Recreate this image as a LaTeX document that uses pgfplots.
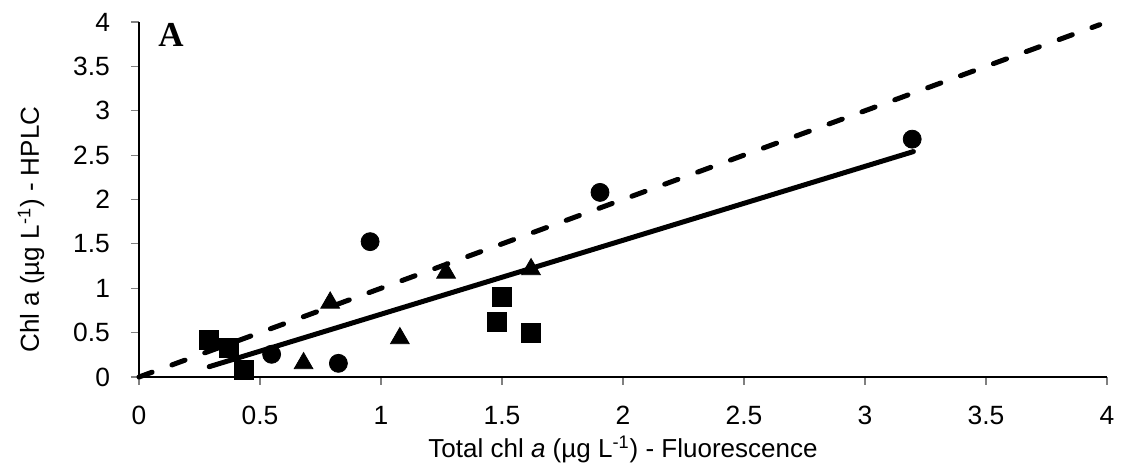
\documentclass[border=0pt]{standalone}
\usepackage{fontspec}
\setmainfont{Liberation Sans}
\newfontfamily\timesfont{Liberation Serif}
\usepackage{pgfplots}
\pgfplotsset{compat=1.18}
\begin{document}
\begin{tikzpicture}
\begin{axis}[
  scale only axis,
  width=484pt, height=177.5pt,
  xmin=0, xmax=4, ymin=0, ymax=4,
  axis x line*=bottom, axis y line*=left,
  xtick={0,0.5,...,4}, ytick={0,0.5,...,4},
  tick align=outside,
  major tick length=4pt,
  tick style={gray, line width=0.6pt},
  axis line style={black, line width=0.8pt},
  /pgf/number format/assume math mode=true,
  tick label style={font=\fontsize{13.2}{15}\selectfont},
  yticklabel style={xshift=-7pt},
  xticklabel style={yshift=-7pt},
  label style={font=\fontsize{13}{15}\selectfont},
  xlabel={Total chl \textit{a} (µg L\textsuperscript{-1}) - Fluorescence},
  ylabel={Chl a (µg L\textsuperscript{-1}) - HPLC},
  xlabel style={at={([yshift=-40pt]rel axis cs:0.5,0)}, anchor=base},
  ylabel style={at={([xshift=-50pt]rel axis cs:0,0.415)}, anchor=base, rotate=0},
  clip=false,
]
% 1:1 line
\addplot[black, line width=2.5pt, line cap=round, dash pattern=on 7pt off 10.5pt] coordinates {(0,0) (3.97,3.97)};
% regression line
\addplot[black, line width=2.5pt, line cap=round] coordinates {(0.29,0.116) (3.2,2.54)};
% squares
\addplot[only marks, mark=square*, mark size=4.75pt, black] coordinates {
(0.29,0.417) (0.373,0.323) (0.435,0.079) (1.499,0.898) (1.478,0.616) (1.62,0.492)};
% circles
\addplot[only marks, mark=*, mark size=4.5pt, black] coordinates {
(0.548,0.256) (0.824,0.154) (0.955,1.525) (1.905,2.08) (3.195,2.68)};
% triangles
\addplot[only marks, mark=triangle*, mark size=5.4pt, black] coordinates {
(0.68,0.154) (0.79,0.837) (1.078,0.436) (1.269,1.175) (1.62,1.213)};
\node[anchor=west, inner sep=0pt, font=\timesfont\bfseries\fontsize{17.5}{19}\selectfont] at ([xshift=9.5pt]rel axis cs:0,0.963) {A};
\coordinate (sw) at (rel axis cs:0,0);
\coordinate (ne) at (rel axis cs:1,1);
\end{axis}
\pgfresetboundingbox
\path ([shift={(-69.5pt,-44pt)}]sw) rectangle ([shift={(7.5pt,11pt)}]ne);
\end{tikzpicture}
\end{document}
